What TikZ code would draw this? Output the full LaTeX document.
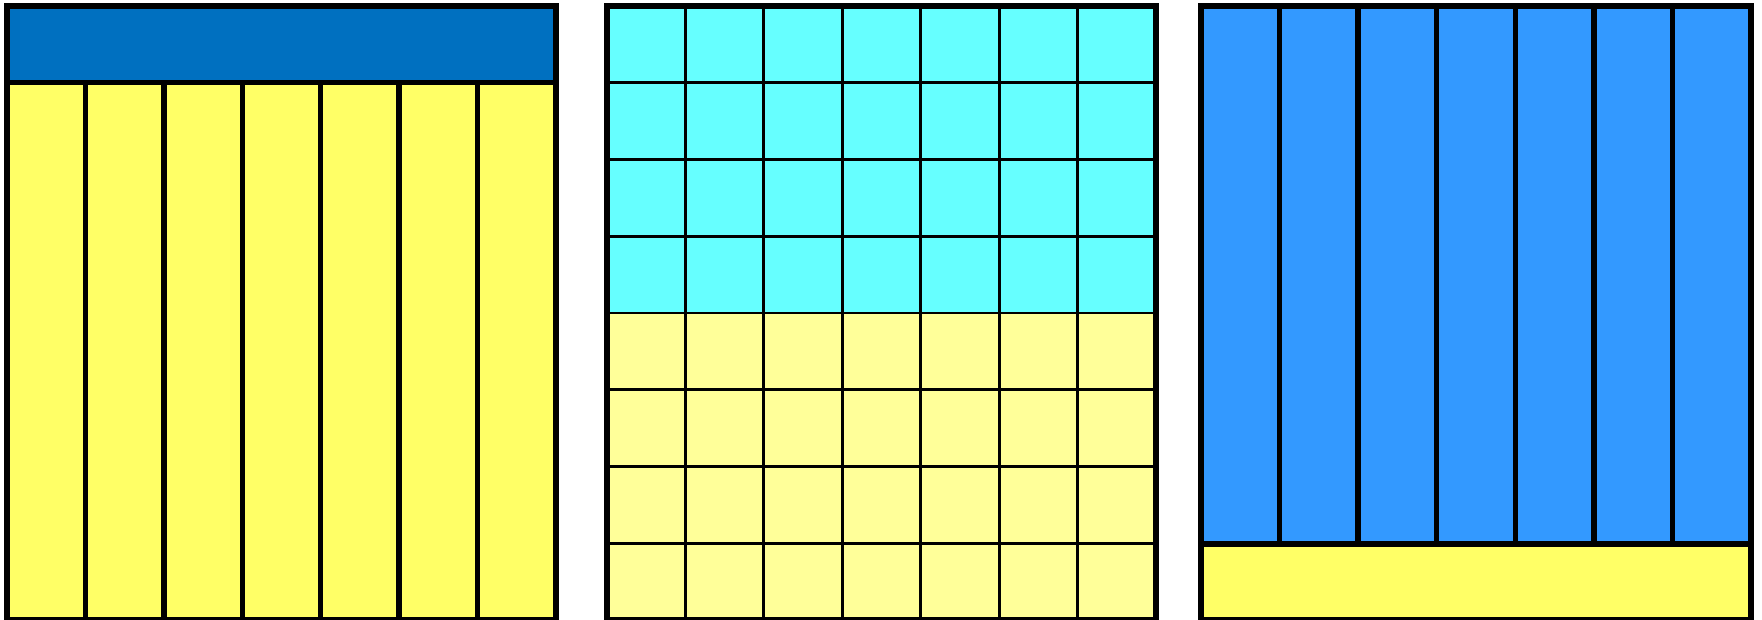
\documentclass[tikz,border=0pt]{standalone}
\usepackage{xcolor}
\usepackage{tikz}
\usetikzlibrary{positioning}
\definecolor{bandc}{HTML}{0070C0}
\definecolor{stripc}{HTML}{FFFF66}
\definecolor{upperc}{HTML}{66FFFF}
\definecolor{lowerc}{HTML}{FFFF99}
\definecolor{barc}{HTML}{3399FF}
\tikzset{
  thickline/.style={black,line width=5.5pt},
  thinline/.style={black,line width=2.8pt},
  frameline/.style={black,line width=6pt}
}
% #1 = left edge, #2 = width
\newcommand{\panelframe}[2]{%
  \draw[frameline] (#1,6) rectangle ({#1+#2},620);
}

\begin{document}
\begin{tikzpicture}[x=1pt,y=-1pt]
  \useasboundingbox (0,0) rectangle (1762,620);
  \begin{scope}
    \fill[bandc] (7,6) rectangle (556,82.75);
    \fill[stripc] (7,82.75) rectangle (556,620);
    \draw[thickline] (7,82.75) -- (556,82.75);
    \foreach \k in {1,...,6} {\draw[thickline] ({7+\k*78.43},82.75) -- ({7+\k*78.43},620);}
    \panelframe{7}{549}
  \end{scope}
  \begin{scope}
    \fill[upperc] (607,6) rectangle (1156,313);
    \fill[lowerc] (607,313) rectangle (1156,620);
    \foreach \k in {1,...,6} {\draw[thinline] ({607+\k*78.43},6) -- ({607+\k*78.43},620);}
    \foreach \r in {1,...,7} {\draw[thinline] (607,{6+\r*76.75}) -- (1156,{6+\r*76.75});}
    \panelframe{607}{549}
  \end{scope}
  \begin{scope}
    \fill[barc] (1201,6) rectangle (1751,544);
    \fill[stripc] (1201,544) rectangle (1751,620);
    \draw[thickline] (1201,544) -- (1751,544);
    \foreach \k in {1,...,6} {\draw[thickline] ({1201+\k*78.57},6) -- ({1201+\k*78.57},544);}
    \panelframe{1201}{550}
  \end{scope}
\end{tikzpicture}
\end{document}
